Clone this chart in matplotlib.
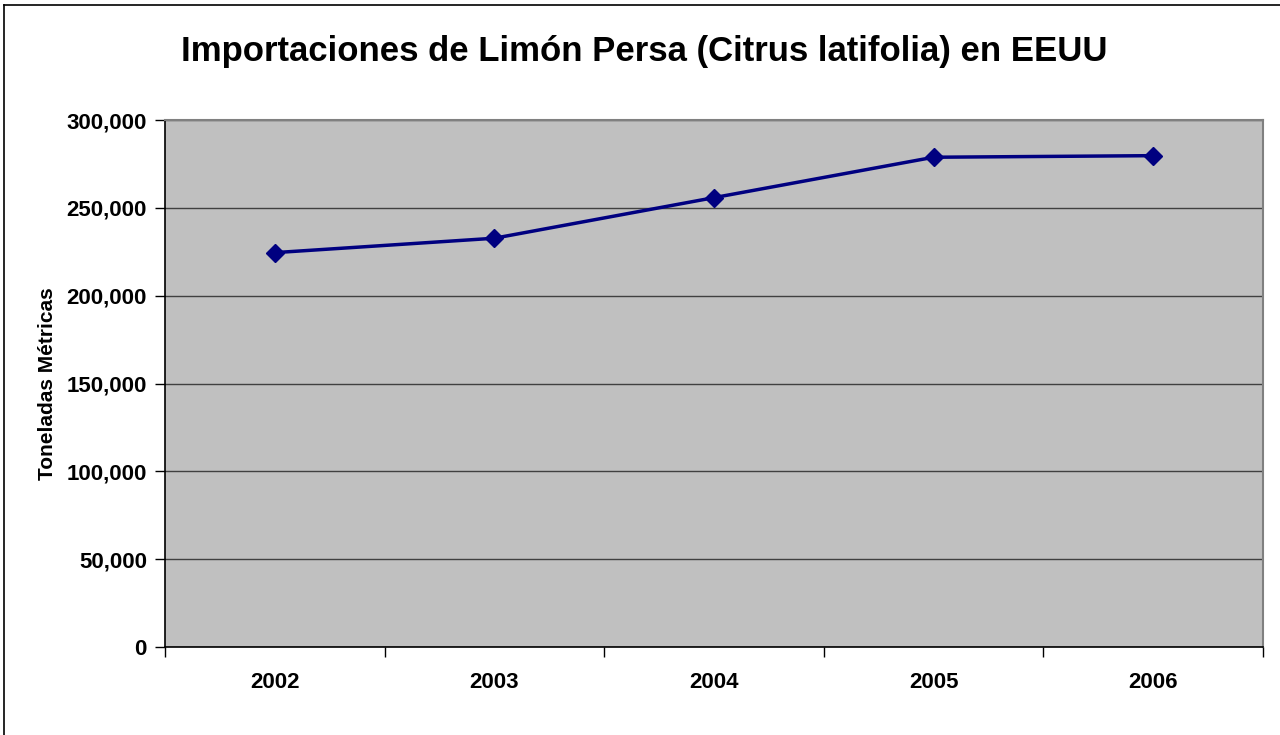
import matplotlib.pyplot as plt
from matplotlib.lines import Line2D
from matplotlib.ticker import FuncFormatter, FixedLocator

# datos
years = ['2002', '2003', '2004', '2005', '2006']
toneladas = [224500, 232700, 255800, 278800, 279700]
y_ticks = [0, 50000, 100000, 150000, 200000, 250000, 300000]

plt.rcParams['font.family'] = ['Liberation Sans', 'DejaVu Sans']

fig = plt.figure(figsize=(12.8, 7.35), dpi=100)
ax = fig.add_axes([165 / 1280, 88 / 735, 1098 / 1280, 527 / 735])
ax.set_facecolor('#c0c0c0')

x = list(range(len(years)))
ax.plot(x, toneladas, color='#000080', linewidth=2.5, marker='D',
        markersize=9.5, markerfacecolor='#000080', markeredgecolor='#000080',
        zorder=3)

ax.set_xlim(-0.5, len(years) - 0.5)
ax.set_ylim(0, 300000)

# ticks entre categorias, etiquetas centradas
ax.xaxis.set_major_locator(FixedLocator([i - 0.5 for i in range(len(years) + 1)]))
ax.xaxis.set_minor_locator(FixedLocator(x))
ax.set_xticklabels([])
ax.set_xticklabels(years, minor=True)
ax.tick_params(axis='x', which='major', direction='out', length=7, width=1)
ax.tick_params(axis='x', which='minor', length=0, pad=18, labelsize=16)
for lbl in ax.get_xticklabels(minor=True):
    lbl.set_fontweight('bold')

ax.set_yticks(y_ticks)
ax.yaxis.set_major_formatter(FuncFormatter(lambda v, p: f'{int(v):,}'))
ax.tick_params(axis='y', direction='out', length=7, width=1, pad=6, labelsize=16)
for lbl in ax.get_yticklabels():
    lbl.set_fontweight('bold')

ax.grid(axis='y', color='#404040', linewidth=1.0)
ax.set_axisbelow(True)

for side in ['top', 'right']:
    ax.spines[side].set_color('#808080')
    ax.spines[side].set_linewidth(1.5)
for side in ['left', 'bottom']:
    ax.spines[side].set_color('black')
    ax.spines[side].set_linewidth(1.2)

ax.set_ylabel('Toneladas Métricas', fontsize=15, fontweight='bold', labelpad=7)

fig.text(644 / 1280, 1 - 51 / 735,
         'Importaciones de Limón Persa (Citrus latifolia) en EEUU',
         ha='center', va='center', fontsize=25, fontweight='bold')

# borde del area del grafico
fig.add_artist(Line2D([4 / 1280, 4 / 1280], [0, 1 - 5 / 735],
                      transform=fig.transFigure, color='black', linewidth=1.2))
fig.add_artist(Line2D([4 / 1280, 1], [1 - 5 / 735, 1 - 5 / 735],
                      transform=fig.transFigure, color='black', linewidth=1.2))

fig.savefig('out.png', dpi=100)
